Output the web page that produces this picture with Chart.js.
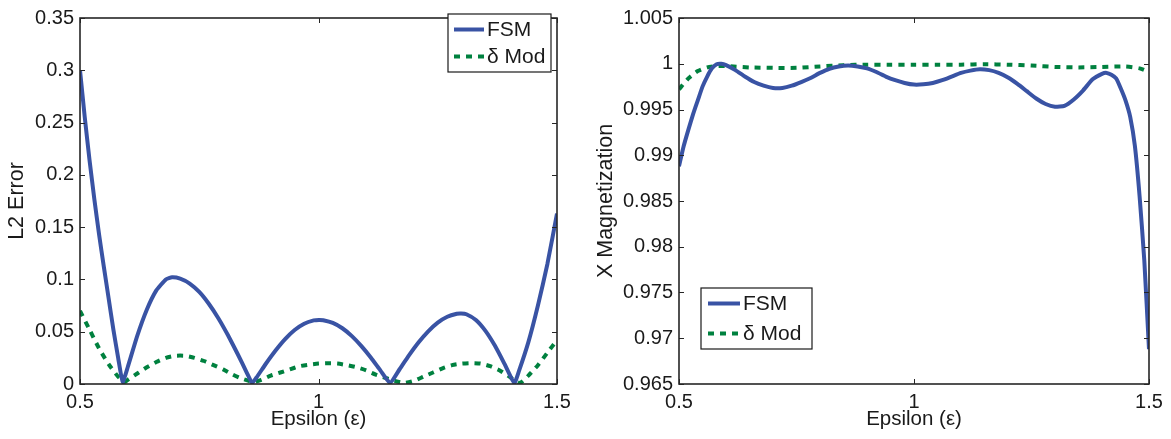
<!DOCTYPE html>
<html>
<head>
<meta charset="utf-8">
<script src="https://cdn.jsdelivr.net/npm/chart.js@4/dist/chart.umd.min.js"></script>
<style>
  body { margin: 0; background: #fff; }
  .box { position: absolute; top: 0; height: 439px; }
</style>
</head>
<body>
<div class="box" style="left:0; width:580px"><canvas id="errChart"></canvas></div>
<div class="box" style="left:580px; width:591px"><canvas id="magChart"></canvas></div>
<script>
// Left panel: L2 error vs epsilon
const errFsmEps = [0.5,0.51,0.52,0.53,0.54,0.55,0.56,0.57,0.58,0.5895,0.6,0.62,0.64,0.66,0.68,0.693,0.71,0.73,0.75,0.77,0.79,0.81,0.83,0.85,0.861,0.87,0.89,0.91,0.93,0.95,0.97,0.99,1.001,1.01,1.03,1.05,1.07,1.09,1.11,1.13,1.15,1.17,1.19,1.21,1.23,1.25,1.27,1.29,1.299,1.31,1.33,1.35,1.37,1.39,1.4105,1.42,1.44,1.46,1.48,1.5];
const errFsm = [0.300,0.255,0.214,0.177,0.143,0.112,0.082,0.052,0.025,0.002,0.016,0.046,0.071,0.0895,0.100,0.102,0.1007,0.096,0.088,0.0767,0.0629,0.0468,0.0292,0.0105,0.001,0.0062,0.0196,0.032,0.0429,0.0516,0.0576,0.0608,0.0613,0.061,0.0584,0.0533,0.0458,0.0362,0.0251,0.0128,0.001,0.0141,0.0276,0.0399,0.0504,0.0587,0.0643,0.0672,0.0675,0.0667,0.0612,0.0508,0.0365,0.0192,0.001,0.012,0.040,0.075,0.115,0.163];
const errModEps = [0.5,0.52,0.54,0.56,0.58,0.594,0.6,0.62,0.64,0.66,0.68,0.7,0.72,0.74,0.76,0.78,0.8,0.82,0.84,0.863,0.88,0.9,0.92,0.94,0.96,0.98,1.0,1.02,1.04,1.06,1.08,1.1,1.12,1.14,1.16,1.18,1.2,1.22,1.24,1.26,1.28,1.3,1.32,1.34,1.36,1.38,1.4,1.422,1.44,1.46,1.48,1.5];
const errMod = [0.070,0.052,0.034,0.019,0.007,0.002,0.004,0.010,0.016,0.021,0.025,0.027,0.027,0.025,0.022,0.018,0.014,0.009,0.005,0.002,0.004,0.008,0.011,0.014,0.017,0.0185,0.0195,0.0198,0.0195,0.018,0.016,0.013,0.009,0.006,0.003,0.001,0.003,0.007,0.011,0.015,0.018,0.0195,0.020,0.0195,0.017,0.013,0.007,0.001,0.008,0.018,0.030,0.042];

// Right panel: X magnetization vs epsilon
const magFsmEps = [0.5,0.51,0.52,0.53,0.54,0.55,0.56,0.57,0.58,0.59,0.6,0.62,0.64,0.66,0.68,0.7,0.72,0.74,0.76,0.78,0.8,0.82,0.84,0.86,0.88,0.9,0.92,0.94,0.96,0.98,1.0,1.02,1.04,1.06,1.08,1.1,1.12,1.14,1.16,1.18,1.2,1.22,1.24,1.26,1.28,1.3,1.32,1.34,1.36,1.38,1.4,1.41,1.42,1.43,1.44,1.45,1.46,1.47,1.48,1.49,1.5];
const magFsm = [0.9888,0.9910,0.9928,0.9945,0.9960,0.9975,0.9986,0.9995,0.99995,1.0000,0.99985,0.9993,0.9986,0.9980,0.9976,0.99735,0.99735,0.9976,0.9980,0.99845,0.9990,0.99945,0.9997,0.9998,0.9997,0.9995,0.9991,0.9986,0.9982,0.9979,0.99772,0.99775,0.9979,0.9982,0.9986,0.9990,0.99925,0.9994,0.9993,0.9990,0.9985,0.9978,0.9970,0.9962,0.9956,0.9953,0.9954,0.9961,0.9971,0.9983,0.9989,0.9990,0.9988,0.9984,0.9973,0.9960,0.9942,0.9910,0.9855,0.9785,0.9688];
const magModEps = [0.5,0.52,0.54,0.56,0.58,0.6,0.65,0.7,0.75,0.8,0.85,0.9,0.95,1.0,1.05,1.1,1.15,1.2,1.25,1.3,1.35,1.4,1.45,1.48,1.5];
const magMod = [0.9972,0.9984,0.9992,0.9996,0.99975,0.99975,0.9996,0.99955,0.99955,0.9997,0.99985,0.9999,0.9999,0.9999,0.9999,0.9999,0.99995,0.9999,0.9998,0.99965,0.9996,0.99965,0.9997,0.9995,0.9991];

const FONT = 'Liberation Sans, Arial, Helvetica, sans-serif';
const TXT = '#1a1a1a';
const BLUE = '#3953a4';
const GREEN = '#00813f';

function pts(xs, ys) {
  return xs.map((x, i) => ({ x: x, y: ys[i] }));
}

// short labels: 0.3 not 0.30, 1 not 1.000
function shortLabel(v) {
  return String(+v.toFixed(4));
}

// axes box with inward ticks, like matlab
const frameTicks = {
  id: 'frameTicks',
  afterDatasetsDraw(chart) {
    const { ctx, chartArea: a, scales } = chart;
    const len = 5;
    ctx.save();
    ctx.strokeStyle = '#262626';
    ctx.lineWidth = 1;
    ctx.beginPath();
    scales.x.ticks.forEach(t => {
      const px = Math.round(scales.x.getPixelForValue(t.value)) + 0.5;
      ctx.moveTo(px, a.bottom); ctx.lineTo(px, a.bottom - len);
      ctx.moveTo(px, a.top); ctx.lineTo(px, a.top + len);
    });
    scales.y.ticks.forEach(t => {
      const py = Math.round(scales.y.getPixelForValue(t.value)) + 0.5;
      ctx.moveTo(a.left, py); ctx.lineTo(a.left + len, py);
      ctx.moveTo(a.right, py); ctx.lineTo(a.right - len, py);
    });
    ctx.stroke();
    ctx.lineWidth = 1.6;
    ctx.strokeRect(a.left, a.top, a.right - a.left, a.bottom - a.top);
    ctx.restore();
  }
};

// boxed legend drawn inside the axes
const boxLegend = {
  id: 'boxLegend',
  afterDraw(chart, args, o) {
    const ctx = chart.ctx;
    ctx.save();
    ctx.fillStyle = '#fff';
    ctx.fillRect(o.left, o.top, o.width, o.height);
    ctx.strokeStyle = '#1a1a1a';
    ctx.lineWidth = 1.2;
    ctx.strokeRect(o.left, o.top, o.width, o.height);
    chart.data.datasets.forEach((ds, i) => {
      const y = o.rows[i];
      ctx.strokeStyle = ds.borderColor;
      ctx.lineWidth = ds.borderWidth;
      ctx.setLineDash(ds.borderDash || []);
      ctx.beginPath();
      ctx.moveTo(o.lineX, y);
      ctx.lineTo(o.lineX + o.lineLen, y);
      ctx.stroke();
      ctx.setLineDash([]);
      ctx.fillStyle = TXT;
      ctx.font = '21px ' + FONT;
      ctx.textBaseline = 'middle';
      ctx.fillText(ds.label, o.lineX + o.lineLen + 3, y + 1);
    });
    ctx.restore();
  }
};

function makeChart(id, fsm, mod, yOpts, yTitle, yWidth, rightPad, titlePad, legend) {
  return new Chart(document.getElementById(id), {
    type: 'line',
    data: {
      datasets: [
        { label: 'FSM', data: fsm, borderColor: BLUE, borderWidth: 4, tension: 0.15,
          pointRadius: 0, borderJoinStyle: 'round', borderCapStyle: 'butt' },
        { label: 'δ Mod', data: mod, borderColor: GREEN, borderWidth: 4, tension: 0.2,
          pointRadius: 0, borderDash: [6, 6], borderCapStyle: 'butt' }
      ]
    },
    options: {
      responsive: true,
      maintainAspectRatio: false,
      animation: false,
      layout: { padding: { top: 9, right: rightPad, bottom: 0, left: 0 } },
      plugins: { legend: { display: false }, tooltip: { enabled: false }, boxLegend: legend },
      scales: {
        x: {
          type: 'linear', min: 0.5, max: 1.5,
          ticks: { stepSize: 0.5, padding: 6, color: TXT, font: { family: FONT, size: 20 },
                   callback: shortLabel },
          grid: { display: false, drawTicks: false },
          border: { display: false },
          title: { display: true, text: 'Epsilon (ε)', color: TXT, font: { family: FONT, size: 20.5 },
                   padding: { top: 0, bottom: 7 } },
          afterFit: s => { s.height = 55; }
        },
        y: {
          type: 'linear', min: yOpts.min, max: yOpts.max,
          ticks: { stepSize: yOpts.step, padding: 6, color: TXT, font: { family: FONT, size: 20 },
                   callback: shortLabel },
          grid: { display: false, drawTicks: false },
          border: { display: false },
          title: { display: true, text: yTitle, color: TXT, font: { family: FONT, size: 21.5 },
                   padding: { top: titlePad, bottom: 0 } },
          afterFit: s => { s.width = yWidth; }
        }
      }
    },
    plugins: [frameTicks, boxLegend]
  });
}

makeChart('errChart', pts(errFsmEps, errFsm), pts(errModEps, errMod),
  { min: 0, max: 0.35, step: 0.05 }, 'L2 Error', 80, 23, 4,
  { left: 448, top: 14, width: 103, height: 58, lineX: 454, lineLen: 30, rows: [29.5, 56.5] });

makeChart('magChart', pts(magFsmEps, magFsm), pts(magModEps, magMod),
  { min: 0.965, max: 1.005, step: 0.005 }, 'X Magnetization', 99, 22, 13,
  { left: 121, top: 288, width: 111, height: 61, lineX: 128, lineLen: 32, rows: [303.5, 333.5] });
</script>
</body>
</html>
